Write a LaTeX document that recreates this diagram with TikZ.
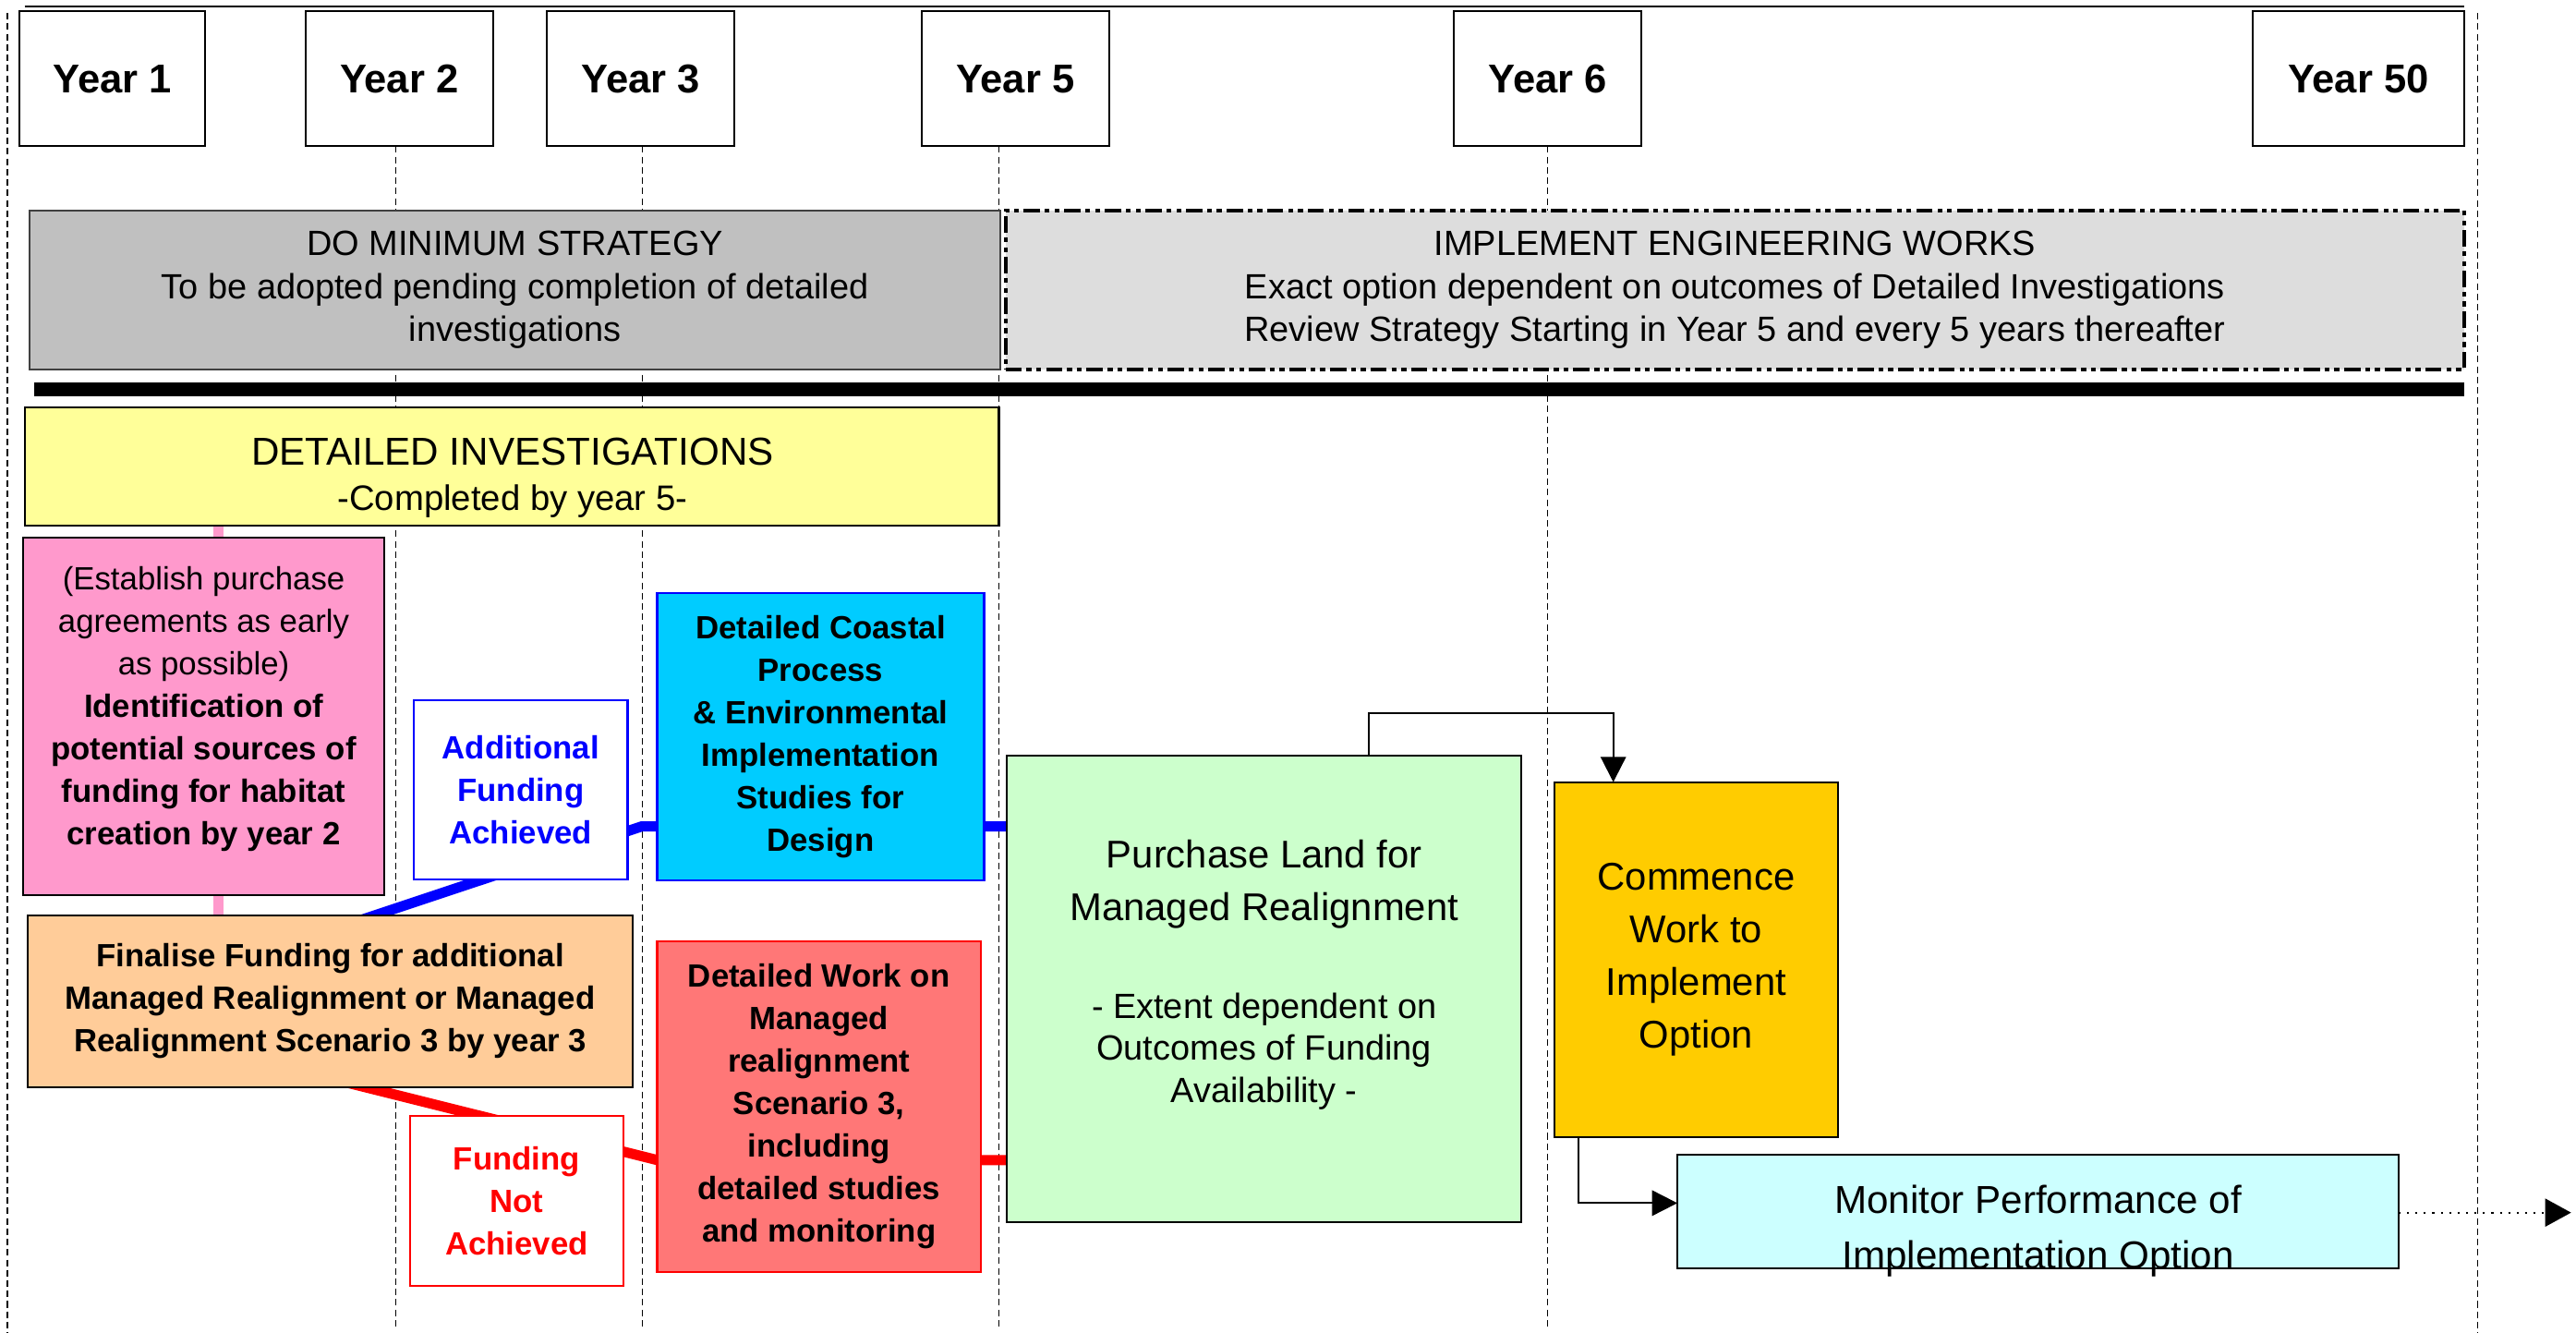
\documentclass[tikz,border=0pt]{standalone}
\usepackage{fontspec}
\setmainfont{Liberation Sans}
\usetikzlibrary{arrows.meta,backgrounds}

\definecolor{dmgray}{HTML}{C0C0C0}
\definecolor{iwgray}{HTML}{DDDDDD}
\definecolor{diyellow}{HTML}{FFFF99}
\definecolor{srcpink}{HTML}{FF99CC}
\definecolor{finorange}{HTML}{FFCC99}
\definecolor{cpsblue}{HTML}{00CCFF}
\definecolor{mrred}{HTML}{FF7777}
\definecolor{landgreen}{HTML}{CCFFCC}
\definecolor{workgold}{HTML}{FFCC00}
\definecolor{moncyan}{HTML}{CCFFFF}

\newcommand{\pxu}{0.017787cm}
\newcommand{\yearfont}{\fontsize{12.4}{14}\selectfont\bfseries}
\newcommand{\stratfont}{\fontsize{10.8}{13.3}\selectfont}
\newcommand{\taskfont}{\fontsize{9.9}{13.1}\selectfont}
\newcommand{\bigfont}{\fontsize{11.9}{16.2}\selectfont}

\tikzset{
  wh/.style 2 args={minimum width=#1*\pxu, minimum height=#2*\pxu},
  box/.style={draw=black, line width=0.6pt, inner sep=0pt, outer sep=0pt,
    anchor=north west, align=center},
  yearbox/.style={box, fill=white, font=\yearfont},
  txt/.style={inner sep=0pt, align=center},
  guide/.style={line width=0.4pt, dash pattern=on 2pt off 1.2pt},
  link/.style={line width=6.2*\pxu},
  flow/.style={line width=0.6pt, -{Triangle[length=7.8pt,width=7.8pt]}},
  dotflow/.style={line width=0.6pt, dotted, -{Triangle[length=8pt,width=8.6pt]}}
}

\begin{document}
\begin{tikzpicture}[x=0.017787cm, y=-0.017787cm]
\useasboundingbox (0,0) rectangle (1568,811);

% time axis
\begin{pgfonlayer}{background}
  \draw[line width=0.6pt] (15,4) -- (1500,4);
  \foreach \gx in {241,391,608,942}
    \draw[guide] (\gx,89) -- (\gx,808);
  \draw[guide] (4.5,8) -- (4.5,811);
  \draw[guide] (1508,8) -- (1508,811);
\end{pgfonlayer}

\node[yearbox, wh={113}{82}] (y1) at (12,7) {Year 1};
\node[yearbox, wh={114}{82}] (y2) at (186,7) {Year 2};
\node[yearbox, wh={114}{82}] (y3) at (333,7) {Year 3};
\node[yearbox, wh={114}{82}] (y5) at (561,7) {Year 5};
\node[yearbox, wh={114}{82}] (y6) at (885,7) {Year 6};
\node[yearbox, wh={129}{82}] (y50) at (1371,7) {Year 50};

% strategies
\node[box, fill=dmgray, draw=black!75, wh={591}{97}, font=\stratfont] (dm) at (18,128)
  {DO MINIMUM STRATEGY\\To be adopted pending completion of detailed\\investigations};
\node[box, fill=iwgray, line width=1.1pt,
  dash pattern=on 5pt off 1.5pt on 1.5pt off 1.5pt on 1.5pt off 1.5pt,
  wh={888}{97}, font=\stratfont] (iw) at (612,128)
  {IMPLEMENT ENGINEERING WORKS\\Exact option dependent on outcomes of Detailed Investigations\\Review Strategy Starting in Year 5 and every 5 years thereafter};
\fill (21,233) rectangle (1500,241);

% detailed investigations
\node[box, fill=diyellow, wh={593}{72}] (di) at (15,248) {};
\node[txt, font=\fontsize{12}{14.1}\selectfont] (ditxt) at (312,290.8)
  {DETAILED INVESTIGATIONS\\{\fontsize{10.9}{14.1}\selectfont -Completed by year 5-}};

\node[box, fill=srcpink, wh={220}{218}] (src) at (14,327) {};
\node[txt, font=\taskfont] (srctxt) at (124,431.7)
  {(Establish purchase\\agreements as early\\as possible)\\\textbf{Identification of}\\\textbf{potential sources of}\\\textbf{funding for habitat}\\\textbf{creation by year 2}};

\node[box, fill=finorange, wh={368}{104.5}, font=\taskfont\bfseries] (fin) at (17,557)
  {Finalise Funding for additional\\Managed Realignment or Managed\\Realignment Scenario 3 by year 3};

\node[box, fill=white, draw=blue, text=blue, wh={130}{109}, font=\taskfont\bfseries] (yes) at (252,426)
  {Additional\\Funding\\Achieved};
\node[box, fill=cpsblue, draw=blue, wh={199}{175}, font=\taskfont\bfseries] (cps) at (400,361)
  {Detailed Coastal\\Process\\\& Environmental\\Implementation\\Studies for\\Design};

\node[box, fill=white, draw=red, text=red, wh={130}{103.6}, font=\taskfont\bfseries] (no) at (249.5,679)
  {Funding\\Not\\Achieved};
\node[box, fill=mrred, draw=red, wh={197}{201}, font=\taskfont\bfseries] (mr3) at (400,573)
  {Detailed Work on\\Managed\\realignment\\Scenario 3,\\including\\detailed studies\\and monitoring};

% engineering works
\node[box, fill=landgreen, wh={313}{284}] (gr) at (613,460) {};
\node[txt, font=\bigfont] (grtitle) at (769.5,538) {Purchase Land for\\Managed Realignment};
\node[txt, font=\fontsize{10.8}{13}\selectfont] (grsub) at (769.5,639.8)
  {- Extent dependent on\\Outcomes of Funding\\Availability -};

\node[box, fill=workgold, wh={173}{216}, font=\bigfont] (cw) at (946,476)
  {Commence\\Work to\\Implement\\Option};

\node[box, fill=moncyan, wh={439}{69}] (mon) at (1021,703) {};
\node[txt, font=\fontsize{12}{17}\selectfont] (montxt) at (1240.5,749)
  {Monitor Performance of\\Implementation Option};

% links
\coordinate (pk) at (133,0);
\coordinate (bs) at (209.5,563.3);
\coordinate (bk) at (390.5,503);
\coordinate (rs) at (201.6,656.5);
\coordinate (rk) at (400,706);
\begin{pgfonlayer}{background}
  \draw[link, srcpink] (di.south -| pk) -- (fin.north -| pk);
  \draw[link, blue] (bs) -- (bk) -- (bk -| gr.west);
  \draw[link, red] (rs) -- (rk) -- (rk -| gr.west);
\end{pgfonlayer}

\coordinate (gtop) at (833,434);
\coordinate (tail) at (1565,738);
\draw[flow] (gtop |- gr.north) -- (gtop) -| ([xshift=-50.5*\pxu]cw.north);
\draw[flow] ([xshift=-71.5*\pxu]cw.south) |- ([yshift=5.3*\pxu]mon.west);
\draw[dotflow] (mon.east |- tail) -- (tail);
\end{tikzpicture}
\end{document}
